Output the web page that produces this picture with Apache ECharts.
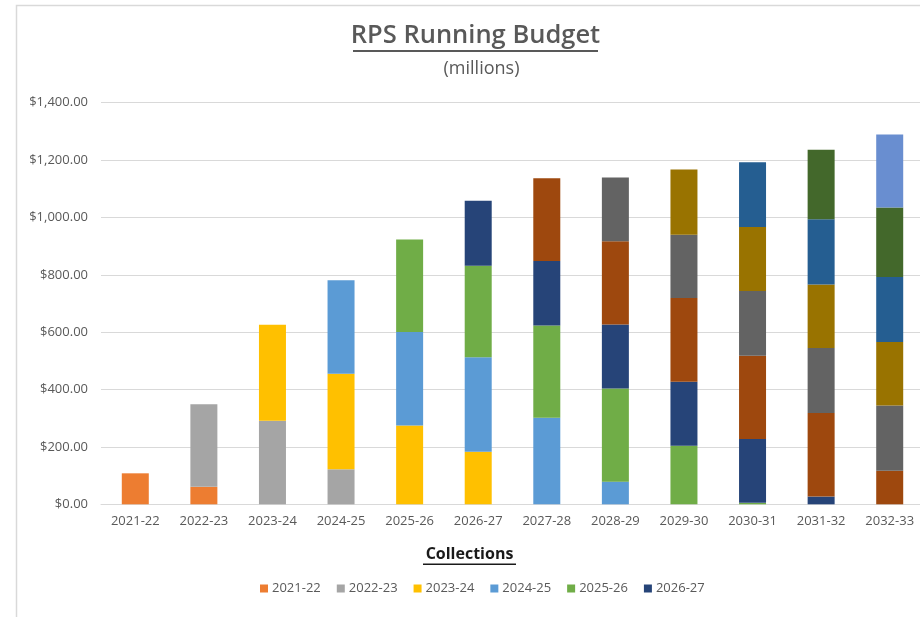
<!DOCTYPE html>
<html>
<head>
<meta charset="utf-8">
<script src="https://cdn.jsdelivr.net/npm/echarts@6/dist/echarts.min.js"></script>
<style>
html,body{margin:0;padding:0;background:#fff;}
#chart{width:920px;height:617px;}
</style>
</head>
<body>
<div id="chart"></div>
<script>
// Categories (fiscal years on x-axis)
const categories = ['2021-22','2022-23','2023-24','2024-25','2025-26','2026-27','2027-28','2028-29','2029-30','2030-31','2031-32','2032-33'];

// Series: each collection year's running budget contribution (millions)
const s2021_22 = [108, 61, 0, 0, 0, 0, 0, 0, 0, 0, 0, 0];
const s2022_23 = [0, 288, 291, 122, 0, 0, 0, 0, 0, 0, 0, 0];
const s2023_24 = [0, 0, 335, 333, 275, 183, 0, 0, 0, 0, 0, 0];
const s2024_25 = [0, 0, 0, 326, 326, 330, 302, 79, 0, 0, 0, 0];
const s2025_26 = [0, 0, 0, 0, 322, 319, 321, 325, 204, 5, 0, 0];
const s2026_27 = [0, 0, 0, 0, 0, 226, 225, 223, 223, 223, 27, 0];
const s2027_28 = [0, 0, 0, 0, 0, 0, 289, 290, 292, 290, 291, 117];
const s2028_29 = [0, 0, 0, 0, 0, 0, 0, 222, 221, 226, 227, 227];
const s2029_30 = [0, 0, 0, 0, 0, 0, 0, 0, 227, 223, 221, 222];
const s2030_31 = [0, 0, 0, 0, 0, 0, 0, 0, 0, 225, 228, 226];
const s2031_32 = [0, 0, 0, 0, 0, 0, 0, 0, 0, 0, 242, 243];
const s2032_33 = [0, 0, 0, 0, 0, 0, 0, 0, 0, 0, 0, 254];

const seriesNames = ['2021-22','2022-23','2023-24','2024-25','2025-26','2026-27','2027-28','2028-29','2029-30','2030-31','2031-32','2032-33'];
const seriesValues = [s2021_22, s2022_23, s2023_24, s2024_25, s2025_26, s2026_27, s2027_28, s2028_29, s2029_30, s2030_31, s2031_32, s2032_33];
const legendShown = ['2021-22','2022-23','2023-24','2024-25','2025-26','2026-27'];

const colors = ['#ED7D31','#A5A5A5','#FFC000','#5B9BD5','#70AD47','#264478','#9E480E','#636363','#997300','#255E91','#43682B','#698ED0'];

const FONT = "'Open Sans', 'Noto Sans', sans-serif";
const GREY = '#595959';

const chart = echarts.init(document.getElementById('chart'));
const option = {
  animation: false,
  color: colors,
  textStyle: { fontFamily: FONT },
  grid: { left: 101, right: -4, top: 102.7, bottom: 112.7, containLabel: false, outerBoundsMode: 'none' },
  legend: {
    data: legendShown,
    left: 255,
    top: 577,
    icon: 'rect',
    itemWidth: 8,
    itemHeight: 8,
    itemGap: 16,
    textStyle: { color: GREY, fontSize: 13, fontFamily: FONT, padding: [0, 0, 0, -1] }
  },
  xAxis: {
    type: 'category',
    data: categories,
    axisTick: { show: false },
    axisLine: { lineStyle: { color: '#d9d9d9', width: 1 } },
    axisLabel: { color: GREY, fontSize: 13, margin: 10, fontFamily: FONT }
  },
  yAxis: {
    type: 'value',
    min: 0,
    max: 1400,
    interval: 200,
    axisLine: { show: false },
    axisTick: { show: false },
    splitLine: { lineStyle: { color: '#d9d9d9', width: 1 } },
    axisLabel: {
      color: GREY, fontSize: 13, margin: 13, fontFamily: FONT,
      formatter: v => '$' + v.toLocaleString('en-US', { minimumFractionDigits: 2, maximumFractionDigits: 2 })
    }
  },
  series: seriesNames.map((name, i) => ({
    name: name,
    type: 'bar',
    stack: 'total',
    barWidth: 27,
    data: seriesValues[i],
    itemStyle: { color: colors[i] }
  })),
  graphic: [
    { type: 'rect', shape: { x: 16.5, y: 5.5, width: 920, height: 640 }, style: { fill: 'none', stroke: '#d9d9d9', lineWidth: 1.5 }, silent: true },
    { type: 'text', x: 475.5, y: 36, style: { text: 'RPS Running Budget', font: "600 25.5px 'Open Sans', sans-serif", fill: GREY, textAlign: 'center', textVerticalAlign: 'middle' } },
    { type: 'rect', shape: { x: 353, y: 50, width: 245, height: 2 }, style: { fill: GREY } },
    { type: 'text', x: 481.5, y: 69, style: { text: '(millions)', font: "18px 'Open Sans', sans-serif", fill: GREY, textAlign: 'center', textVerticalAlign: 'middle' } },
    { type: 'text', x: 469.5, y: 554, style: { text: 'Collections', font: "bold 16px 'Open Sans', sans-serif", fill: '#1a1a1a', textAlign: 'center', textVerticalAlign: 'middle' } },
    { type: 'rect', shape: { x: 423, y: 563.5, width: 93, height: 1.5 }, style: { fill: '#1a1a1a' } }
  ]
};
chart.setOption(option);
</script>
</body>
</html>
